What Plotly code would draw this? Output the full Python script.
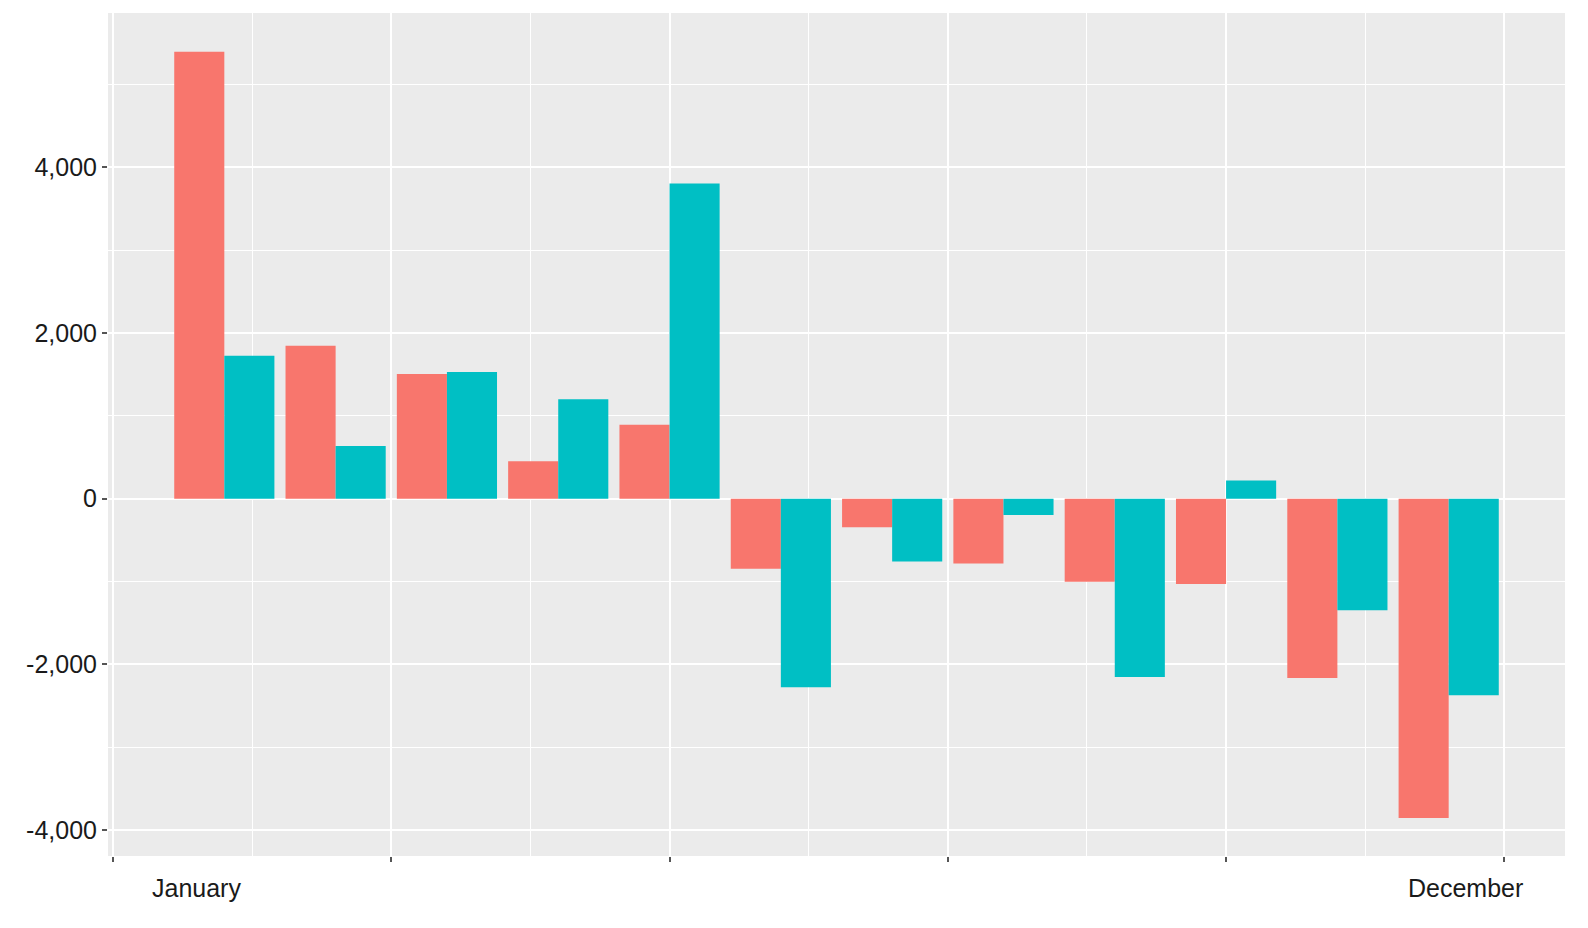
import plotly.graph_objects as go

months = list(range(1, 13))
series_a = [5394, 1847, 1505, 453, 893, -844, -343, -783, -1003, -1028, -2165, -3853]
series_b = [1725, 636, 1529, 1199, 3804, -2275, -758, -196, -2153, 220, -1346, -2373]
x_breaks = [0, 2.5, 5, 7.5, 10, 12.5]
y_breaks = [-4000, -2000, 0, 2000, 4000]
y_labels = ["-4,000", "-2,000", "0", "2,000", "4,000"]
end_labels = ["January", "December"]
end_label_x = [0.75, 12.15]

fig = go.Figure()
fig.add_trace(go.Bar(x=months, y=series_a, marker=dict(color="#F8766D", line_width=0), name="a"))
fig.add_trace(go.Bar(x=months, y=series_b, marker=dict(color="#00BFC4", line_width=0), name="b"))

for lx, txt in zip(end_label_x, end_labels):
    fig.add_annotation(x=lx, y=-0.038, xref="x", yref="paper", text=txt,
                       showarrow=False, yanchor="middle",
                       font=dict(family="Liberation Sans", size=25, color="#1a1a1a"))

# page body has an 8px margin, so the figure is a bit smaller than the window
fig.update_layout(
    width=1580, height=920,
    margin=dict(l=100, r=23, t=5, b=72),
    barmode="group", bargap=0.1, bargroupgap=0,
    showlegend=False,
    plot_bgcolor="#EBEBEB", paper_bgcolor="white",
    font=dict(family="Liberation Sans", size=25, color="#1a1a1a"),
)
fig.update_xaxes(
    range=[-0.045, 13.045], tickvals=x_breaks, ticktext=[""] * len(x_breaks),
    showgrid=True, gridcolor="white", gridwidth=2, zeroline=False,
    ticks="outside", ticklen=5, tickcolor="#555", tickwidth=1.5,
    minor=dict(dtick=1.25, tick0=0, showgrid=True, gridcolor="white", gridwidth=1, ticks=""),
)
fig.update_yaxes(
    range=[-4312, 5862], tickvals=y_breaks, ticktext=y_labels,
    showgrid=True, gridcolor="white", gridwidth=2, zeroline=False,
    ticks="outside", ticklen=5, tickcolor="#555", tickwidth=1.5,
    minor=dict(dtick=1000, tick0=0, showgrid=True, gridcolor="white", gridwidth=1, ticks=""),
)

fig.write_html("out.html")
